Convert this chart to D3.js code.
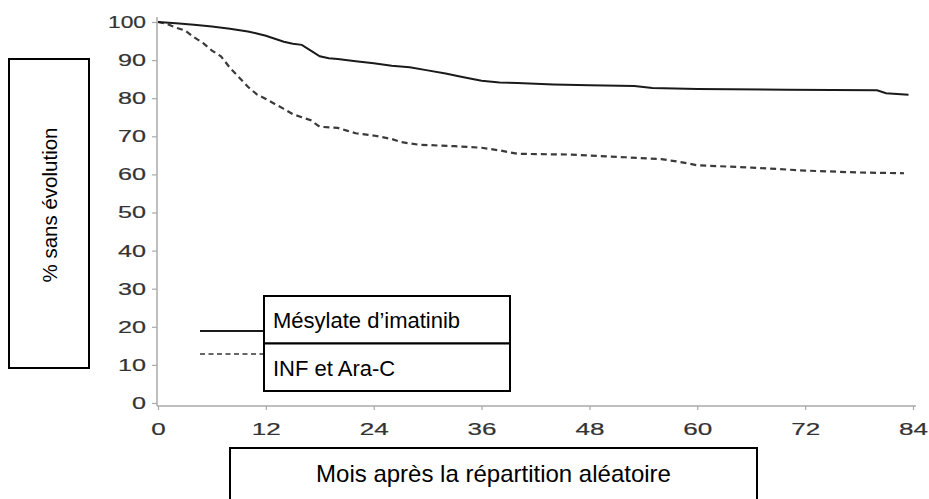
<!DOCTYPE html>
<html>
<head>
<meta charset="utf-8">
<script src="https://cdn.jsdelivr.net/npm/d3@7"></script>
<style>
  body { margin: 0; background: #fff; }
  svg { display: block; }
</style>
</head>
<body>
<svg id="chart" width="929" height="499"></svg>
<script>
// tick values
var xTicks = [0, 12, 24, 36, 48, 60, 72, 84];
var yTicks = [0, 10, 20, 30, 40, 50, 60, 70, 80, 90, 100];

// Mesylate d'imatinib (solid)
var imaMonths = [0, 2, 4, 6, 8, 10, 11, 12, 13, 14, 15, 16, 17, 18, 19, 20, 22, 24, 26, 28, 30, 32, 34, 36, 38, 40, 44, 48, 53, 55, 60, 70, 80, 81, 83.5];
var imaValues = [100, 99.7, 99.3, 98.8, 98.2, 97.5, 97, 96.4, 95.6, 94.8, 94.3, 94, 92.5, 91, 90.5, 90.3, 89.7, 89.2, 88.5, 88.1, 87.3, 86.5, 85.5, 84.6, 84.1, 84, 83.6, 83.4, 83.2, 82.7, 82.4, 82.2, 82.1, 81.3, 80.9];

// INF et Ara-C (dashed)
var infMonths = [0, 1, 2, 3, 4, 5, 6, 7, 8, 9, 10, 11, 12, 13, 14, 15, 16, 17, 18, 20, 21, 22, 24, 26, 27, 29, 33, 36, 38, 40, 46, 52, 56, 58, 60, 66, 72, 78, 83];
var infValues = [100, 99.5, 98.5, 97.8, 96, 94.5, 92.5, 91, 88, 85.5, 83, 81, 79.8, 78.5, 77.2, 75.8, 75, 74.2, 72.5, 72.2, 71.5, 70.8, 70.2, 69.3, 68.5, 67.8, 67.4, 67, 66.3, 65.4, 65.2, 64.5, 64, 63.3, 62.4, 61.8, 61, 60.5, 60.3];

var legendLabels = ["Mésylate d\u2019imatinib", "INF et Ara-C"];
var yTitle = "% sans évolution";
var xTitle = "Mois après la répartition aléatoire";

var svg = d3.select("#chart");

var x = d3.scaleLinear().domain([0, 84]).range([158, 913]);
var y = d3.scaleLinear().domain([0, 100]).range([403, 22]);

var axisColor = "#aaa";
var tickFont = "'Liberation Sans', Arial, sans-serif";
var textFont = "'Liberation Sans', Arial, sans-serif";

// axis lines
svg.append("line")
  .attr("x1", x(0) - 1).attr("x2", x(0) - 1)
  .attr("y1", y(100) - 5).attr("y2", y(0) + 3)
  .attr("stroke", axisColor).attr("stroke-width", 1.5);
svg.append("line")
  .attr("x1", x(0) - 1).attr("x2", x(84) + 3)
  .attr("y1", y(0) + 3).attr("y2", y(0) + 3)
  .attr("stroke", axisColor).attr("stroke-width", 1.5);

// y axis
var gy = svg.append("g")
  .attr("transform", "translate(" + (x(0) - 1) + ",0)")
  .call(d3.axisLeft(y).tickValues(yTicks).tickSize(5).tickSizeOuter(0).tickPadding(6));
gy.select(".domain").remove();
gy.selectAll(".tick line").attr("stroke", axisColor).attr("stroke-width", 1.2);
gy.selectAll(".tick text")
  .attr("font-family", tickFont)
  .attr("font-size", 17)
  .attr("fill", "#333")
  .attr("stroke", "#333").attr("stroke-width", 0.2)
  .attr("textLength", function(d) { return String(d).length === 3 ? 38 : String(d).length * 14; })
  .attr("lengthAdjust", "spacingAndGlyphs");

// x axis
var gx = svg.append("g")
  .attr("transform", "translate(0," + (y(0) + 3) + ")")
  .call(d3.axisBottom(x).tickValues(xTicks).tickSize(4).tickSizeOuter(0).tickPadding(13));
gx.select(".domain").remove();
gx.selectAll(".tick line").attr("stroke", axisColor).attr("stroke-width", 1.2);
gx.selectAll(".tick text")
  .attr("font-family", tickFont)
  .attr("font-size", 17)
  .attr("fill", "#333")
  .attr("stroke", "#333").attr("stroke-width", 0.2)
  .attr("textLength", function(d) { return String(d).length * 14.5; })
  .attr("lengthAdjust", "spacingAndGlyphs");

// curves
var line = d3.line()
  .x(function(d) { return x(d[0]); })
  .y(function(d) { return y(d[1]); });

svg.append("path")
  .datum(d3.zip(infMonths, infValues))
  .attr("d", line)
  .attr("fill", "none")
  .attr("stroke", "#3a3a3a")
  .attr("stroke-width", 2.2)
  .attr("stroke-dasharray", "6,4");

svg.append("path")
  .datum(d3.zip(imaMonths, imaValues))
  .attr("d", line)
  .attr("fill", "none")
  .attr("stroke", "#1a1a1a")
  .attr("stroke-width", 2);

// legend
var legX = 264, legY = 296, legW = 246, rowH = 47.5;
var legend = svg.append("g");
legendLabels.forEach(function(label, i) {
  legend.append("line")
    .attr("x1", 200).attr("x2", legX)
    .attr("y1", i === 0 ? 331 : 354).attr("y2", i === 0 ? 331 : 354)
    .attr("stroke", i === 0 ? "#1a1a1a" : "#666")
    .attr("stroke-width", 2)
    .attr("stroke-dasharray", i === 0 ? null : "5,3.5");
  legend.append("rect")
    .attr("x", legX).attr("y", legY + rowH * i)
    .attr("width", legW).attr("height", rowH)
    .attr("fill", "#fff")
    .attr("stroke", "#000").attr("stroke-width", 2);
  legend.append("text")
    .attr("x", legX + 9)
    .attr("y", legY + rowH * i + 32)
    .attr("font-family", textFont)
    .attr("font-size", 22)
    .attr("fill", "#000")
    .text(label);
});

// y title box
svg.append("rect")
  .attr("x", 9).attr("y", 59).attr("width", 80).attr("height", 309)
  .attr("fill", "#fff").attr("stroke", "#000").attr("stroke-width", 2);
svg.append("text")
  .attr("transform", "translate(49,205) rotate(-90)")
  .attr("text-anchor", "middle")
  .attr("dominant-baseline", "central")
  .attr("font-family", textFont)
  .attr("font-size", 20.5)
  .attr("fill", "#000")
  .text(yTitle);

// x title box
svg.append("rect")
  .attr("x", 230).attr("y", 448).attr("width", 527).attr("height", 60)
  .attr("fill", "#fff").attr("stroke", "#000").attr("stroke-width", 2);
svg.append("text")
  .attr("x", 493.5).attr("y", 482)
  .attr("text-anchor", "middle")
  .attr("font-family", textFont)
  .attr("font-size", 24)
  .attr("fill", "#000")
  .text(xTitle);
</script>
</body>
</html>
